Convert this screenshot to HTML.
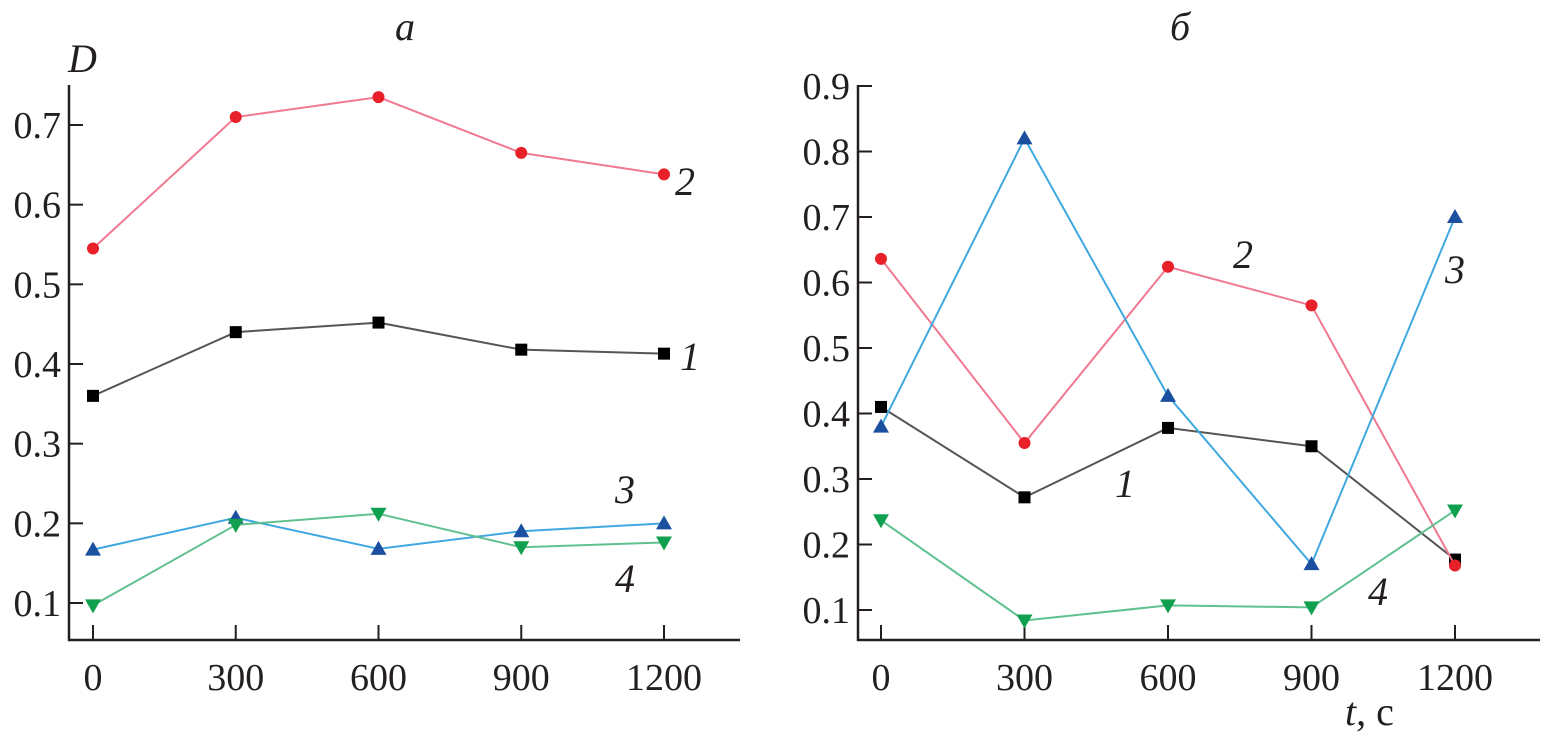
<!DOCTYPE html>
<html><head><meta charset="utf-8"><style>
body{margin:0;background:#fff;width:1549px;height:741px;overflow:hidden}
svg text{font-family:"Liberation Serif",serif;fill:#231f20}
</style></head><body>
<svg id="c" width="1549" height="741"></svg>
<script>
const times=[0,300,600,900,1200];
const leftS1=[0.36,0.44,0.452,0.418,0.413];
const leftS2=[0.545,0.71,0.735,0.665,0.638];
const leftS3=[0.167,0.207,0.168,0.19,0.2];
const leftS4=[0.097,0.198,0.212,0.17,0.176];
const rightS1=[0.41,0.272,0.378,0.35,0.177];
const rightS2=[0.636,0.355,0.624,0.565,0.168];
const rightS3=[0.38,0.82,0.427,0.17,0.70];
const rightS4=[0.237,0.084,0.107,0.104,0.252];
const leftYTicks=[0.1,0.2,0.3,0.4,0.5,0.6,0.7];
const rightYTicks=[0.1,0.2,0.3,0.4,0.5,0.6,0.7,0.8,0.9];
const NS='http://www.w3.org/2000/svg';
const svg=document.getElementById('c');
function mk(t,a,p){const e=document.createElementNS(NS,t);for(const k in a)e.setAttribute(k,a[k]);(p||svg).appendChild(e);return e;}
const styles={s1:{c:'#555',m:'#000',t:'sq'},s2:{c:'#f07890',m:'#e8202a',t:'ci'},s3:{c:'#40a8e0',m:'#1b4fa0',t:'up'},s4:{c:'#60c090',m:'#10a050',t:'dn'}};
function panel(name,ax,ay0,axEnd,axTop,x0px,x1200px,yA,yApx,yB,yBpx,yticks,series,labels){
  const g=mk('g',{});
  
  
  const X=v=>x0px+(x1200px-x0px)*v/1200;
  const Y=v=>yApx+(yBpx-yApx)*(v-yA)/(yB-yA);
  const axes=mk('path',{d:`M${ax},${axTop}V${ay0}H${axEnd}`,stroke:'#231f20','stroke-width':2.5,fill:'none'},g);
  
  
  yticks.forEach(v=>{const y=Y(v);
    mk('line',{x1:ax,x2:ax+14,y1:y,y2:y,stroke:'#231f20','stroke-width':2},g);
    const t=mk('text',{x:ax-8,y:y+13,'text-anchor':'end','font-size':38},g);t.textContent=v.toFixed(1);
    
    });
  times.forEach(v=>{const x=X(v);
    mk('line',{x1:x,x2:x,y1:ay0,y2:ay0-15,stroke:'#231f20','stroke-width':2},g);
    const t=mk('text',{x:x,y:ay0+50,'text-anchor':'middle','font-size':38},g);t.textContent=v;
    
    });
  Object.keys(series).forEach(k=>{const st=styles[k],d=series[k];
    const pl=mk('polyline',{points:d.map((v,i)=>X(times[i])+','+Y(v)).join(' '),fill:'none',stroke:st.c,'stroke-width':2},g);
    
    
    d.forEach((v,i)=>{const x=X(times[i]),y=Y(v);let m;
      if(st.t==='sq')m=mk('rect',{x:x-6,y:y-6,width:12,height:12,fill:st.m},g);
      else if(st.t==='ci')m=mk('circle',{cx:x,cy:y,r:6,fill:st.m},g);
      else if(st.t==='up')m=mk('polygon',{points:`${x-8},${y+6} ${x+8},${y+6} ${x},${y-8}`,fill:st.m},g);
      else m=mk('polygon',{points:`${x-8},${y-6} ${x+8},${y-6} ${x},${y+8}`,fill:st.m},g);
      
      });
  });
  labels.forEach(l=>{const t=mk('text',{x:l[1],y:l[2],'font-size':40,'font-style':'italic'},g);t.textContent=l[0];
    
    });
}
panel('panel-a',69,640,740,85,93,664,0.1,603,0.7,125,leftYTicks,{s1:leftS1,s2:leftS2,s3:leftS3,s4:leftS4},
  [['2',675,195],['1',680,370],['3',615,503],['4',615,592],['a',395,40],['D',68,72]]);
panel('panel-b',858,640,1540,85,881,1455,0.1,610,0.9,86,rightYTicks,{s1:rightS1,s2:rightS2,s3:rightS3,s4:rightS4},
  [['2',1233,268],['1',1115,497],['3',1445,283],['4',1368,605],['б',1170,40]]);
const tl=mk('text',{x:1345,y:725,'font-size':40});
tl.innerHTML='<tspan font-style="italic">t</tspan>, c';


</script>
</body></html>
